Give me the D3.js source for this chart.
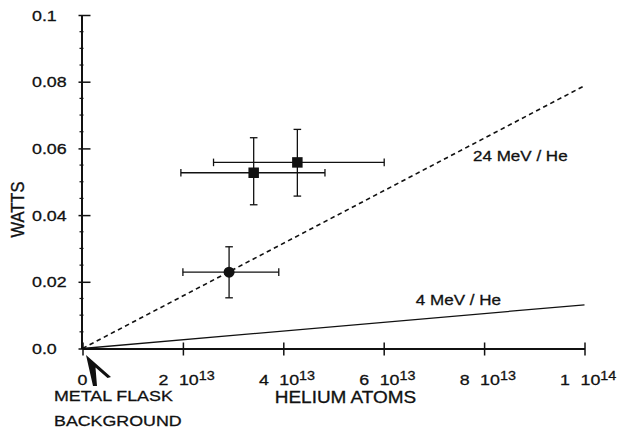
<!DOCTYPE html>
<html>
<head>
<meta charset="utf-8">
<script src="https://cdn.jsdelivr.net/npm/d3@7"></script>
<style>
  html, body { margin: 0; padding: 0; background: #fff; }
  svg { display: block; }
  text { font-family: "Liberation Sans", Arial, Helvetica, sans-serif; fill: #111; stroke: #111; stroke-width: 0.3px; }
</style>
</head>
<body>
<svg id="chart" width="618" height="434"></svg>
<script>
// ---------- data ----------
const xTickValues = [0, 2e13, 4e13, 6e13, 8e13, 1e14];
const xTickMantissa = ["0", "2", "4", "6", "8", "1"];
const xTickExponent = ["", "13", "13", "13", "13", "14"];
const yTickValues = [0, 0.02, 0.04, 0.06, 0.08, 0.1];
const yTickLabels = ["0.0", "0.02", "0.04", "0.06", "0.08", "0.1"];
const yMinorStep = 0.005;

const pointX    = [2.92e13, 3.41e13, 4.28e13];
const pointY    = [0.0229, 0.0527, 0.0558];
const pointXLow = [2.00e13, 1.96e13, 2.61e13];
const pointXHigh= [3.91e13, 4.83e13, 6.01e13];
const pointYLow = [0.0152, 0.0431, 0.0457];
const pointYHigh= [0.0305, 0.0632, 0.0657];
const pointShape= ["circle", "square", "square"];

const lineLabels = ["24 MeV / He", "4 MeV / He"];
const lineXEnd   = [1e14, 1e14];
const lineYEnd   = [0.0788, 0.0131];
const lineDashed = [true, false];
const lineLabelX = [0.778e14, 0.664e14];
const lineLabelY = [0.0563, 0.0129];

const xTitle = "HELIUM ATOMS";
const yTitle = "WATTS";
const noteLines = ["METAL FLASK", "BACKGROUND"];

// ---------- layout ----------
const plotLeft = 82.5, plotRight = 584.5, plotTop = 15, plotBottom = 348.5;
const stretch = 1.15;

const svg = d3.select("#chart");
const x = d3.scaleLinear().domain([0, 1e14]).range([plotLeft, plotRight]);
const y = d3.scaleLinear().domain([0, 0.1]).range([plotBottom, plotTop]);

function stretchedText(g, px, py, str, size, anchor) {
  return g.append("text")
    .attr("transform", `translate(${px},${py}) scale(${stretch},1)`)
    .attr("font-size", size)
    .attr("text-anchor", anchor || "start")
    .text(str);
}

// ---------- lines ----------
const lineData = lineLabels.map((l, i) => ({label: l, x1: lineXEnd[i], y1: lineYEnd[i], dashed: lineDashed[i], lx: lineLabelX[i], ly: lineLabelY[i]}));
lineData.forEach(d => {
  svg.append("line")
    .attr("x1", x(0)).attr("y1", y(0))
    .attr("x2", x(d.x1)).attr("y2", y(d.y1))
    .attr("stroke", "#111")
    .attr("stroke-width", d.dashed ? 1.6 : 1.3)
    .attr("stroke-dasharray", d.dashed ? "4.5,3.5" : null);
  stretchedText(svg, x(d.lx), y(d.ly), d.label, 14.8, "start");
});

// ---------- error bars & points ----------
const pts = pointX.map((v, i) => ({x: v, y: pointY[i], xl: pointXLow[i], xh: pointXHigh[i], yl: pointYLow[i], yh: pointYHigh[i], shape: pointShape[i]}));
const capH = 3.8, capV = 3.8;
const eb = svg.append("g").attr("stroke", "#111").attr("stroke-width", 1.3);
pts.forEach(p => {
  eb.append("line").attr("x1", x(p.xl)).attr("x2", x(p.xh)).attr("y1", y(p.y)).attr("y2", y(p.y));
  eb.append("line").attr("x1", x(p.xl)).attr("x2", x(p.xl)).attr("y1", y(p.y) - capH).attr("y2", y(p.y) + capH);
  eb.append("line").attr("x1", x(p.xh)).attr("x2", x(p.xh)).attr("y1", y(p.y) - capH).attr("y2", y(p.y) + capH);
  eb.append("line").attr("x1", x(p.x)).attr("x2", x(p.x)).attr("y1", y(p.yl)).attr("y2", y(p.yh));
  eb.append("line").attr("x1", x(p.x) - capV).attr("x2", x(p.x) + capV).attr("y1", y(p.yl)).attr("y2", y(p.yl));
  eb.append("line").attr("x1", x(p.x) - capV).attr("x2", x(p.x) + capV).attr("y1", y(p.yh)).attr("y2", y(p.yh));
});
svg.append("g").selectAll("path").data(pts).join("path")
  .attr("transform", p => `translate(${x(p.x)},${y(p.y)})`)
  .attr("d", p => d3.symbol().type(p.shape === "circle" ? d3.symbolCircle : d3.symbolSquare).size(p.shape === "circle" ? 95 : 110)())
  .attr("fill", "#111");

// ---------- axes ----------
const xAxisG = svg.append("g").attr("transform", `translate(0,${plotBottom})`)
  .call(d3.axisBottom(x).tickValues(xTickValues).tickSize(0).tickFormat(""));
xAxisG.select(".domain").attr("stroke", "#111").attr("stroke-width", 2);
xAxisG.selectAll(".tick").append("line").attr("y1", -6).attr("y2", 7).attr("stroke", "#111").attr("stroke-width", 1.5);

const yAxisG = svg.append("g").attr("transform", `translate(${plotLeft - 1},0)`)
  .call(d3.axisLeft(y).tickValues(yTickValues).tickSize(0).tickFormat(""));
yAxisG.select(".domain").attr("stroke", "#111").attr("stroke-width", 2);
yAxisG.selectAll(".tick").append("line").attr("x1", -3).attr("x2", 9).attr("stroke", "#111").attr("stroke-width", 1.5);
const minorVals = d3.range(yMinorStep, 0.1, yMinorStep).filter(v => Math.abs(v / 0.02 - Math.round(v / 0.02)) > 1e-6);
yAxisG.selectAll(".minor").data(minorVals).join("line")
  .attr("x1", -2).attr("x2", 2).attr("y1", d => y(d)).attr("y2", d => y(d))
  .attr("stroke", "#111").attr("stroke-width", 1.2);

// y tick labels
yTickValues.forEach((v, i) => {
  stretchedText(svg, 32, y(v) + 5.5, yTickLabels[i], 15.5, "start");
});

// x tick labels
xTickValues.forEach((v, i) => {
  if (xTickExponent[i] === "") {
    stretchedText(svg, x(v), 385, xTickMantissa[i], 15.5, "middle");
  } else {
    stretchedText(svg, x(v) - 14.5, 385, xTickMantissa[i], 15.5, "end");
    const t = stretchedText(svg, x(v) - 4, 385, "10", 15.5, "start");
    t.append("tspan").attr("dy", -5.5).attr("font-size", 12.5).text(xTickExponent[i]);
  }
});

// titles
stretchedText(svg, (x(0) + x(1e14)) / 2 + 12, 403, xTitle, 16.5, "middle");
svg.append("text")
  .attr("transform", `translate(23.5,209.5) scale(${stretch},1) rotate(-90)`)
  .attr("font-size", 16.5)
  .attr("text-anchor", "middle")
  .text(yTitle);
noteLines.forEach((s, i) => stretchedText(svg, 54, 401 + i * 25, s, 15.5, "start"));

// arrow pointing at origin
const ox = x(0), oy = y(0);
const arrow = [[3.5, 6.5], [28.5, 28.5], [25, 29.5], [13, 19], [14.5, 37.5], [10.5, 37.5]];
svg.append("path")
  .attr("d", d3.line()(arrow.map(([dx, dy]) => [ox + dx, oy + dy])) + "Z")
  .attr("fill", "#111");
</script>
</body>
</html>
